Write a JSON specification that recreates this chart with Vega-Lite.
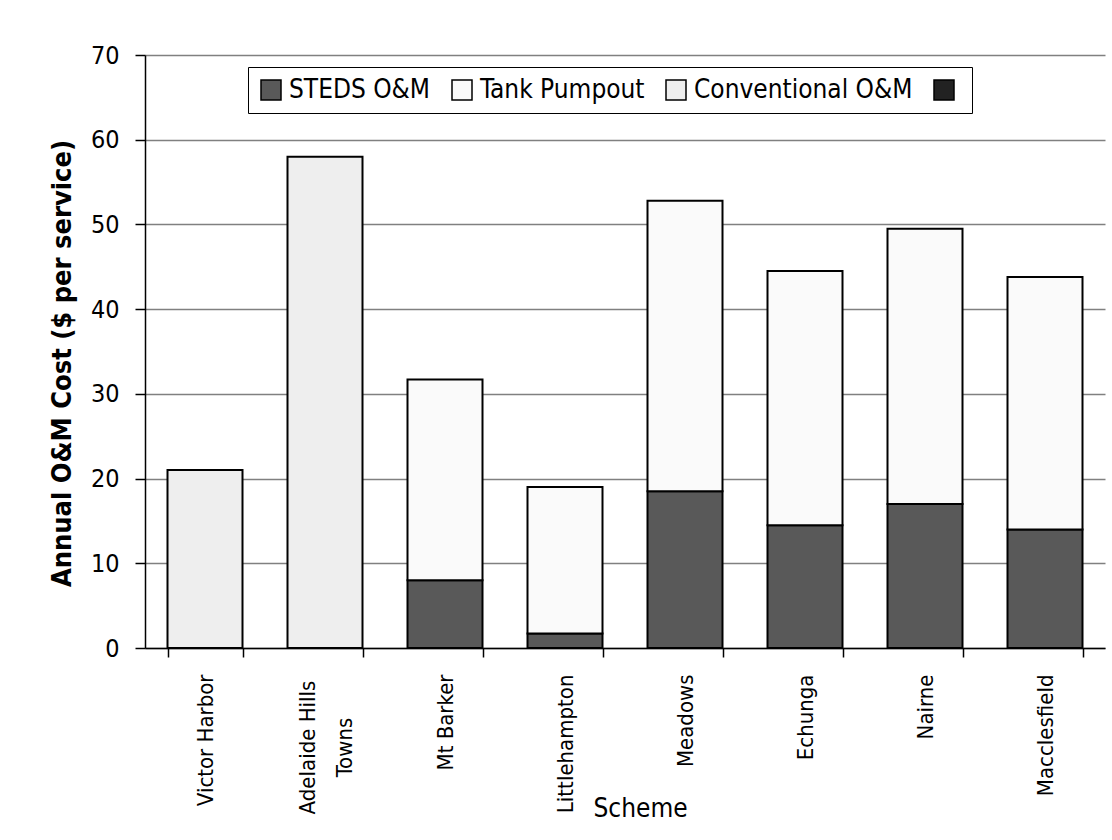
{
  "$schema": "https://vega.github.io/schema/vega-lite/v6.json",
  "width": 960,
  "height": 593,
  "autosize": {"type": "none"},
  "padding": {"left": 145, "top": 55, "right": 7, "bottom": 192},
  "background": "white",
  "data": {
    "values": [
      {"scheme": "Victor Harbor", "series": "Conventional O&M", "cost": 21.0},
      {"scheme": "Adelaide Hills Towns", "series": "Conventional O&M", "cost": 58.0},
      {"scheme": "Mt Barker", "series": "STEDS O&M", "cost": 8.0},
      {"scheme": "Mt Barker", "series": "Tank Pumpout", "cost": 23.7},
      {"scheme": "Littlehampton", "series": "STEDS O&M", "cost": 1.7},
      {"scheme": "Littlehampton", "series": "Tank Pumpout", "cost": 17.3},
      {"scheme": "Meadows", "series": "STEDS O&M", "cost": 18.5},
      {"scheme": "Meadows", "series": "Tank Pumpout", "cost": 34.3},
      {"scheme": "Echunga", "series": "STEDS O&M", "cost": 14.5},
      {"scheme": "Echunga", "series": "Tank Pumpout", "cost": 30.0},
      {"scheme": "Nairne", "series": "STEDS O&M", "cost": 17.0},
      {"scheme": "Nairne", "series": "Tank Pumpout", "cost": 32.5},
      {"scheme": "Macclesfield", "series": "STEDS O&M", "cost": 14.0},
      {"scheme": "Macclesfield", "series": "Tank Pumpout", "cost": 29.8}
    ]
  },
  "mark": {"type": "bar", "stroke": "black", "strokeWidth": 2},
  "encoding": {
    "x": {
      "field": "scheme",
      "type": "nominal",
      "sort": null,
      "scale": {"paddingInner": 0.375, "paddingOuter": 0.1875},
      "axis": {
        "title": "Scheme",
        "titleFont": "DejaVu Sans Condensed, Liberation Sans",
        "titleFontSize": 26,
        "titleFontWeight": "normal",
        "titleColor": "black",
        "titleX": 495,
        "titleY": 160,
        "titleBaseline": "middle",
        "titleAlign": "center",
        "labelAngle": -90,
        "labelAlign": {"condition": {"test": "datum.value == 'Adelaide Hills Towns'", "value": "center"}, "value": "right"},
        "labelBaseline": "middle",
        "labelFont": "DejaVu Sans Condensed, Liberation Sans",
        "labelFontSize": 22,
        "labelColor": "black",
        "labelPadding": {"condition": {"test": "datum.value == 'Adelaide Hills Towns'", "value": 90}, "value": 17},
        "labelOffset": {"condition": {"test": "datum.value == 'Adelaide Hills Towns'", "value": -18}, "value": 0},
        "labelLineHeight": 37,
        "labelLimit": 300,
        "labelExpr": "datum.value == 'Adelaide Hills Towns' ? ['Adelaide Hills', 'Towns'] : datum.value",
        "tickBand": "extent",
        "tickSize": 9,
        "tickColor": "black",
        "domainColor": "black",
        "grid": false
      }
    },
    "y": {
      "field": "cost",
      "type": "quantitative",
      "aggregate": "sum",
      "stack": "zero",
      "scale": {"domain": [0, 70], "nice": false},
      "axis": {
        "title": "Annual O&M Cost ($ per service)",
        "titleFont": "DejaVu Sans Condensed, Liberation Sans",
        "titleFontSize": 27,
        "titleFontWeight": "bold",
        "titleColor": "black",
        "titleX": -83,
        "titleY": 308,
        "titleAngle": -90,
        "titleBaseline": "middle",
        "titleAlign": "center",
        "values": [0, 10, 20, 30, 40, 50, 60, 70],
        "labelFont": "DejaVu Sans Condensed, Liberation Sans",
        "labelFontSize": 25,
        "labelColor": "black",
        "labelPadding": 16,
        "tickSize": 10,
        "tickColor": "black",
        "domainColor": "black",
        "grid": true,
        "gridColor": "#808080",
        "gridWidth": 1.5
      }
    },
    "color": {
      "field": "series",
      "type": "nominal",
      "scale": {
        "domain": ["STEDS O&M", "Tank Pumpout", "Conventional O&M", " "],
        "range": ["#595959", "#fafafa", "#eeeeee", "#222222"]
      },
      "legend": {
        "title": null,
        "orient": "none",
        "legendX": 103,
        "legendY": 12,
        "direction": "horizontal",
        "columns": 4,
        "symbolType": "square",
        "symbolSize": 400,
        "symbolStrokeColor": "black",
        "symbolStrokeWidth": 1.5,
        "labelFont": "DejaVu Sans Condensed, Liberation Sans",
        "labelFontSize": 26,
        "labelColor": "black",
        "labelOffset": 5,
        "labelLimit": 400,
        "columnPadding": 18,
        "padding": 10,
        "strokeColor": "black",
        "fillColor": "white"
      }
    },
    "order": {"field": "series", "sort": "ascending"}
  },
  "config": {
    "view": {"stroke": null},
    "axis": {"domainWidth": 1.5, "tickWidth": 1.5}
  }
}
